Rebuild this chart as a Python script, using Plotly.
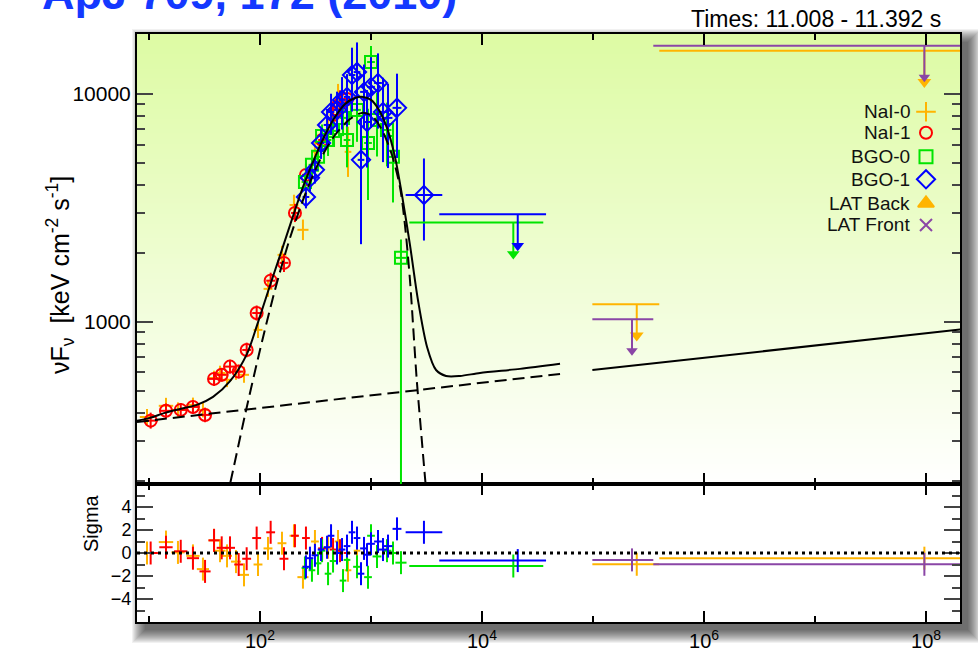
import plotly.graph_objects as go

# ------------------------------------------------------------------
# Spectral points: log10 energy [keV], log10 nuFnu [keV cm^-2 s^-1],
# bar half-widths in dex, and fit residuals in sigma.
# ------------------------------------------------------------------
nai0_logE = [0.982, 1.153, 1.261, 1.396, 1.486, 1.586, 1.640, 1.703, 1.784, 1.856,
             1.982, 2.072, 2.198, 2.306, 2.387, 2.495, 2.613, 2.703, 2.793, 2.874]
nai0_logF = [2.583, 2.632, 2.614, 2.636, 2.614, 2.754, 2.776, 2.746, 2.781, 2.768,
             2.965, 3.145, 3.294, 3.513, 3.404, 3.746, 3.842, 3.974, 3.746, 3.956]
nai0_dE = [0.065, 0.065, 0.06, 0.06, 0.055, 0.05, 0.05, 0.045, 0.045, 0.045,
           0.04, 0.04, 0.04, 0.04, 0.05, 0.035, 0.035, 0.03, 0.03, 0.03]
nai0_dF = [0.035, 0.035, 0.033, 0.032, 0.033, 0.032, 0.032, 0.032, 0.035, 0.035,
           0.035, 0.035, 0.04, 0.045, 0.045, 0.05, 0.06, 0.07, 0.11, 0.08]
nai0_res = [0.0, 0.95, 0.05, -0.25, -1.4, 1.1, 0.2, -0.25, -0.75, -1.9,
            -1.0, 0.4, 0.85, 1.5, -2.1, 1.0, 0.5, 1.0, -1.5, 0.2]

nai1_logE = [1.015, 1.153, 1.286, 1.396, 1.505, 1.586, 1.655, 1.730, 1.808, 1.880,
             1.970, 2.096, 2.216, 2.315, 2.414, 2.559, 2.658, 2.721, 2.784]
nai1_logF = [2.567, 2.610, 2.614, 2.627, 2.592, 2.750, 2.768, 2.804, 2.782, 2.877,
             3.039, 3.181, 3.259, 3.478, 3.645, 3.798, 3.908, 3.956, 3.978]
nai1_dE = [0.065, 0.06, 0.06, 0.055, 0.05, 0.05, 0.045, 0.045, 0.04, 0.04,
           0.04, 0.04, 0.04, 0.035, 0.035, 0.035, 0.03, 0.03, 0.03]
nai1_dF = [0.035, 0.032, 0.03, 0.03, 0.032, 0.03, 0.03, 0.03, 0.03, 0.032,
           0.033, 0.035, 0.04, 0.04, 0.05, 0.05, 0.06, 0.06, 0.07]
nai1_res = [0.0, 0.5, 0.15, -0.45, -1.6, 1.1, 0.45, 0.45, -1.0, -0.5,
            1.3, 1.8, -0.5, 1.5, 1.3, 0.4, 0.3, 0.2, 0.0]

bgo0_logE = [2.405, 2.468, 2.523, 2.559, 2.613, 2.658, 2.748, 2.784, 2.874, 2.973,
             3.000, 3.054, 3.144, 3.198, 3.270]
bgo0_logF = [3.614, 3.689, 3.724, 3.816, 3.798, 3.838, 3.895, 3.798, 3.930, 3.785,
             4.140, 3.886, 3.842, 3.724, 3.281]
bgo0_dE = [0.03, 0.03, 0.03, 0.03, 0.03, 0.03, 0.03, 0.03, 0.035, 0.035,
           0.035, 0.04, 0.04, 0.045, 0.05]
bgo0_dF_up = [0.04, 0.04, 0.045, 0.05, 0.06, 0.06, 0.07, 0.09, 0.10, 0.15,
              0.07, 0.12, 0.12, 0.15, 0.08]
bgo0_dF_dn = [0.04, 0.045, 0.05, 0.06, 0.07, 0.07, 0.08, 0.12, 0.14, 0.25,
              0.12, 0.16, 0.16, 0.2, 1.5]
bgo0_res = [-1.3, -1.5, -0.9, 0.2, -1.8, -0.7, -2.4, -0.6, -1.2, -2.1,
            1.5, -0.3, 0.2, 0.0, -0.84]

bgo1_logE = [2.414, 2.450, 2.495, 2.550, 2.604, 2.640, 2.694, 2.739, 2.784, 2.829,
             2.874, 2.910, 2.937, 2.964, 3.000, 3.063, 3.108, 3.153, 3.234, 3.477]
bgo1_logF = [3.548, 3.632, 3.667, 3.785, 3.864, 3.921, 3.930, 3.974, 3.987, 4.083,
             4.096, 3.711, 4.009, 3.877, 4.031, 4.048, 3.921, 3.895, 3.939, 3.557]
bgo1_dE = [0.03, 0.03, 0.03, 0.03, 0.03, 0.03, 0.03, 0.03, 0.03, 0.03,
           0.03, 0.03, 0.035, 0.035, 0.035, 0.035, 0.04, 0.04, 0.04, 0.165]
bgo1_dF_up = [0.04, 0.05, 0.05, 0.06, 0.07, 0.08, 0.08, 0.1, 0.1, 0.12,
              0.13, 0.18, 0.12, 0.14, 0.13, 0.13, 0.15, 0.15, 0.15, 0.16]
bgo1_dF_dn = [0.05, 0.06, 0.06, 0.07, 0.09, 0.1, 0.1, 0.13, 0.13, 0.16,
              0.17, 0.37, 0.16, 0.2, 0.18, 0.2, 0.22, 0.22, 0.22, 0.2]
bgo1_res = [-1.2, -0.45, -0.2, 0.3, 0.5, 1.5, 0.0, 0.3, 0.6, 1.8,
            1.3, -1.8, 0.4, -0.15, 0.8, 1.0, 0.3, 0.6, 2.1, 1.8]

# Upper limits: centre, bin edges (log10 keV), level (log10 flux), residual
bgo0_ul_logE, bgo0_ul_lo, bgo0_ul_hi, bgo0_ul_logF, bgo0_ul_res = [4.282], [3.345], [4.552], [3.436], [-1.13]
bgo1_ul_logE, bgo1_ul_lo, bgo1_ul_hi, bgo1_ul_logF, bgo1_ul_res = [4.322], [3.615], [4.577], [3.472], [-0.66]
latb_ul_logE = [5.394, 7.985]
latb_ul_lo = [4.994, 5.597]
latb_ul_hi = [5.597, 8.45]
latb_ul_logF = [3.078, 4.190]
latb_ul_res = [-0.98, -0.45]
latf_ul_logE = [5.351, 7.985]
latf_ul_lo = [4.994, 5.543]
latf_ul_hi = [5.543, 8.45]
latf_ul_logF = [3.012, 4.211]
latf_ul_res = [-0.6, -0.98]

# Model curves (log10 keV, log10 nuFnu)
total_gbm_logE = [0.892, 1.009, 1.144, 1.279, 1.432, 1.577, 1.730, 1.883, 1.973, 2.090,
                  2.207, 2.315, 2.405, 2.495, 2.586, 2.676, 2.766, 2.856, 2.928, 3.000,
                  3.072, 3.144, 3.216, 3.279, 3.351, 3.423, 3.505, 3.586, 3.676, 3.802,
                  3.982, 4.342, 4.703]
total_gbm_logF = [2.566, 2.579, 2.601, 2.618, 2.636, 2.671, 2.740, 2.860, 2.985, 3.160,
                  3.330, 3.490, 3.615, 3.722, 3.820, 3.899, 3.956, 3.982, 3.987, 3.974,
                  3.930, 3.851, 3.724, 3.557, 3.338, 3.096, 2.890, 2.789, 2.763, 2.763,
                  2.776, 2.794, 2.816]
total_lat_logE = [4.994, 8.32]
total_lat_logF = [2.789, 2.967]
band_logE = [1.694, 1.730, 1.865, 2.000, 2.135, 2.270, 2.405, 2.541, 2.676, 2.811,
             2.919, 3.009, 3.099, 3.189, 3.261, 3.306, 3.351, 3.412, 3.450, 3.486, 3.505]
band_logF = [2.219, 2.289, 2.592, 2.877, 3.140, 3.368, 3.557, 3.711, 3.820, 3.890,
             3.917, 3.904, 3.842, 3.732, 3.592, 3.425, 3.184, 2.746, 2.526, 2.320, 2.219]
pl_logE = [0.892, 4.703]
pl_logF = [2.561, 2.772]

legend_names = ["NaI-0", "NaI-1", "BGO-0", "BGO-1", "LAT Back", "LAT Front"]

# ------------------------------------------------------------------
ORANGE = "#ffb400"
RED = "#ff0000"
GREEN = "#00e400"
BLUE = "#0000ff"
PURPLE = "#8a46a6"
FONT = "Liberation Sans, Arial, Helvetica, sans-serif"

W, H = 978, 656
ML, MR, MT, MB = 137, 18, 34, 34
PW, PH = W - ML - MR, H - MT - MB
Y_SPLIT_PX = 484
SPLIT = (H - MB - Y_SPLIT_PX) / PH


def paper_x(px):
    return (px - ML) / PW


def paper_y(py):
    return (H - MB - py) / PH


def lin(vals):
    return [10 ** v for v in vals]


def span(logv, d_up, d_dn=None):
    d_dn = d_up if d_dn is None else d_dn
    plus = [10 ** (v + a) - 10 ** v for v, a in zip(logv, d_up)]
    minus = [10 ** v - 10 ** (v - b) for v, b in zip(logv, d_dn)]
    return plus, minus


def err(plus, minus, color, width=2):
    return dict(type="data", symmetric=False, array=plus, arrayminus=minus,
                color=color, thickness=width, width=0)


fig = go.Figure()


def add_series(logE, dE, logF, dF_up, dF_dn, res, color, marker):
    ex_p, ex_m = span(logE, dE)
    ey_p, ey_m = span(logF, dF_up, dF_dn)
    fig.add_trace(go.Scatter(
        x=lin(logE), y=lin(logF), mode="markers", xaxis="x2", yaxis="y2",
        marker=marker, error_x=err(ex_p, ex_m, color), error_y=err(ey_p, ey_m, color),
        showlegend=False, hoverinfo="skip"))
    fig.add_trace(go.Scatter(
        x=lin(logE), y=res, mode="markers", xaxis="x", yaxis="y",
        marker=dict(size=1, color=color),
        error_x=err(ex_p, ex_m, color),
        error_y=dict(type="constant", value=1, color=color, thickness=2, width=0),
        showlegend=False, hoverinfo="skip"))


add_series(nai0_logE, nai0_dE, nai0_logF, nai0_dF, nai0_dF, nai0_res, ORANGE,
           dict(size=1, color=ORANGE))
add_series(nai1_logE, nai1_dE, nai1_logF, nai1_dF, nai1_dF, nai1_res, RED,
           dict(symbol="circle-open", size=12, color=RED, line=dict(width=2, color=RED)))
add_series(bgo0_logE, bgo0_dE, bgo0_logF, bgo0_dF_up, bgo0_dF_dn, bgo0_res, GREEN,
           dict(symbol="square-open", size=12, color=GREEN, line=dict(width=2, color=GREEN)))
add_series(bgo1_logE, bgo1_dE, bgo1_logF, bgo1_dF_up, bgo1_dF_dn, bgo1_res, BLUE,
           dict(symbol="diamond-open", size=14, color=BLUE, line=dict(width=2, color=BLUE)))

ARROW_DEX = 0.15


def add_limits(logE, lo, hi, logF, res, color, head):
    for e, a, b, f, r in zip(logE, lo, hi, logF, res):
        fig.add_trace(go.Scatter(x=[10 ** a, 10 ** b], y=[10 ** f] * 2, mode="lines",
                                 xaxis="x2", yaxis="y2", line=dict(color=color, width=2),
                                 showlegend=False, hoverinfo="skip"))
        fig.add_trace(go.Scatter(x=[10 ** e] * 2, y=[10 ** f, 10 ** (f - ARROW_DEX)],
                                 mode="lines", xaxis="x2", yaxis="y2",
                                 line=dict(color=color, width=2),
                                 showlegend=False, hoverinfo="skip"))
        fig.add_trace(go.Scatter(x=[10 ** e], y=[10 ** (f - ARROW_DEX + 0.012)],
                                 mode="markers", xaxis="x2", yaxis="y2",
                                 marker=dict(symbol="triangle-down", size=head, color=color),
                                 showlegend=False, hoverinfo="skip"))
        fig.add_trace(go.Scatter(
            x=[10 ** e], y=[r], mode="markers", xaxis="x", yaxis="y",
            marker=dict(size=1, color=color),
            error_x=err([10 ** b - 10 ** e], [10 ** e - 10 ** a], color),
            error_y=dict(type="constant", value=1, color=color, thickness=2, width=0),
            showlegend=False, hoverinfo="skip"))


add_limits(bgo0_ul_logE, bgo0_ul_lo, bgo0_ul_hi, bgo0_ul_logF, bgo0_ul_res, GREEN, 11)
add_limits(bgo1_ul_logE, bgo1_ul_lo, bgo1_ul_hi, bgo1_ul_logF, bgo1_ul_res, BLUE, 11)
add_limits(latb_ul_logE, latb_ul_lo, latb_ul_hi, latb_ul_logF, latb_ul_res, ORANGE, 12)
add_limits(latf_ul_logE, latf_ul_lo, latf_ul_hi, latf_ul_logF, latf_ul_res, PURPLE, 10)

# model curves
for xs, ys, dash in [(total_gbm_logE, total_gbm_logF, "solid"),
                     (total_lat_logE, total_lat_logF, "solid"),
                     (band_logE, band_logF, "12px,6px"),
                     (pl_logE, pl_logF, "12px,6px")]:
    fig.add_trace(go.Scatter(x=lin(xs), y=lin(ys), mode="lines", xaxis="x2", yaxis="y2",
                             line=dict(color="black", width=2, dash=dash, shape="spline",
                                       smoothing=0.8),
                             showlegend=False, hoverinfo="skip"))

# legend keys on a hidden overlay axis spanning the upper panel
legend_rows_px = [111.7, 132.7, 156.7, 179.3, 203.3, 225.0]
legend_syms = [("cross-thin-open", ORANGE, 14), ("circle-open", RED, 12),
               ("square-open", GREEN, 13), ("diamond-open", BLUE, 14),
               ("triangle-up", ORANGE, 14), ("x-thin-open", PURPLE, 12)]
key_x = (926 - ML) / PW
for name, ypx, (sym, col, sz) in zip(legend_names, legend_rows_px, legend_syms):
    fig.add_trace(go.Scatter(x=[key_x], y=[(Y_SPLIT_PX - ypx) / (Y_SPLIT_PX - MT)],
                             mode="markers", xaxis="x3", yaxis="y3",
                             marker=dict(symbol=sym, size=sz, color=col,
                                         line=dict(width=2, color=col)),
                             showlegend=False, hoverinfo="skip"))
    fig.add_annotation(x=paper_x(912), y=paper_y(ypx), xref="paper", yref="paper",
                       text=name, showarrow=False, xanchor="right", yanchor="middle",
                       font=dict(family=FONT, size=19, color="#111111"))

# ------------------------------------------------------------------
# backgrounds: drop shadow, white panels, green-to-white gradient
shapes = []
for e in range(14):
    shapes.append(dict(type="rect", xref="paper", yref="paper", layer="below",
                       x0=paper_x(ML + 8 - e), x1=paper_x(W - MR + 8 + e),
                       y0=paper_y(H - MB + 8 + e), y1=paper_y(MT + 8 - e),
                       fillcolor="rgba(0,0,0,0.055)", line=dict(width=0)))
shapes.append(dict(type="rect", xref="paper", yref="paper", layer="below",
                   x0=0, x1=1, y0=0, y1=1, fillcolor="white", line=dict(width=0)))
NB = 90
top = (221, 251, 163)
for i in range(NB):
    t = (i + 0.5) / NB
    c = tuple(round(top[k] + (255 - top[k]) * t) for k in range(3))
    y1 = 1 - (1 - SPLIT) * i / NB
    y0 = 1 - (1 - SPLIT) * (i + 1) / NB
    shapes.append(dict(type="rect", xref="paper", yref="paper", layer="below",
                       x0=0, x1=1, y0=y0 - 0.0005, y1=y1 + 0.0005,
                       fillcolor="rgb(%d,%d,%d)" % c, line=dict(width=0)))
# dotted zero line of the residual panel
shapes.append(dict(type="line", xref="x domain", yref="y", x0=0, x1=1, y0=0, y1=0,
                   line=dict(color="black", width=3, dash="3px,4px"), layer="above"))

x_major = [1e2, 1e4, 1e6, 1e8]
x_text = ["10<sup>2</sup>", "10<sup>4</sup>", "10<sup>6</sup>", "10<sup>8</sup>"]
x_minor = [1e1, 1e3, 1e5, 1e7]
common_x = dict(type="log", range=[0.892, 8.306], showline=True, linewidth=2,
                linecolor="black", mirror="allticks", ticks="inside", ticklen=11,
                tickwidth=1.5, tickcolor="black", showgrid=False, zeroline=False,
                automargin=False, tickvals=x_major, ticktext=x_text,
                minor=dict(tickvals=x_minor, ticks="inside", ticklen=6, tickwidth=1.5,
                           tickcolor="black", showgrid=False))
y_minor = [v * m for v in (100, 1000) for m in range(2, 10)]

fig.update_layout(
    width=W, height=H, margin=dict(l=ML, r=MR, t=MT, b=MB, autoexpand=False),
    paper_bgcolor="white", plot_bgcolor="rgba(0,0,0,0)",
    shapes=shapes, showlegend=False,
    font=dict(family=FONT, color="black"),
    xaxis=dict(common_x, domain=[0, 1], anchor="y",
               tickfont=dict(family=FONT, size=20)),
    xaxis2=dict(common_x, domain=[0, 1], anchor="y2", matches="x",
                showticklabels=False),
    yaxis=dict(domain=[0, SPLIT], range=[-6, 6], anchor="x", showline=True, linewidth=2,
               linecolor="black", mirror="allticks", ticks="inside", ticklen=16,
               tickwidth=1.5, tickvals=[-4, -2, 0, 2, 4], showgrid=False, zeroline=False,
               automargin=False, tickfont=dict(family=FONT, size=18),
               minor=dict(tickvals=[-5, -3, -1, 1, 3, 5], ticks="inside", ticklen=8,
                          tickwidth=1.5, showgrid=False)),
    yaxis2=dict(type="log", domain=[SPLIT, 1], range=[2.289, 4.263], anchor="x2",
                showline=True, linewidth=2, linecolor="black", mirror="allticks",
                ticks="inside", ticklen=16, tickwidth=1.5, tickvals=[1000, 10000],
                ticktext=["1000", "10000"], showgrid=False, zeroline=False,
                automargin=False, tickfont=dict(family=FONT, size=21),
                minor=dict(tickvals=y_minor, ticks="inside", ticklen=8, tickwidth=1.5,
                           showgrid=False)),
    xaxis3=dict(domain=[0, 1], range=[0, 1], anchor="y3", visible=False),
    yaxis3=dict(domain=[SPLIT, 1], range=[0, 1], anchor="x3", visible=False),
)

fig.add_annotation(x=paper_x(40), y=paper_y(275), xref="paper", yref="paper",
                   text="νF<sub>ν</sub>  [keV cm<sup>-2</sup> s<sup>-1</sup>]",
                   textangle=-90, showarrow=False, font=dict(family=FONT, size=25))
fig.add_annotation(x=paper_x(78), y=paper_y(554), xref="paper", yref="paper",
                   text="Sigma", textangle=-90, showarrow=False,
                   font=dict(family=FONT, size=20))
fig.add_annotation(x=paper_x(943), y=paper_y(19), xref="paper", yref="paper",
                   text="Times: 11.008 - 11.392 s", showarrow=False, xanchor="right",
                   yanchor="middle", font=dict(family=FONT, size=23))
fig.add_annotation(x=paper_x(40), y=paper_y(-6), xref="paper", yref="paper",
                   text="<b>ApJ 709, 172 (2010)</b>", showarrow=False, xanchor="left",
                   yanchor="middle", font=dict(family=FONT, size=45, color="#1438ff"))

fig.write_html("out.html")
